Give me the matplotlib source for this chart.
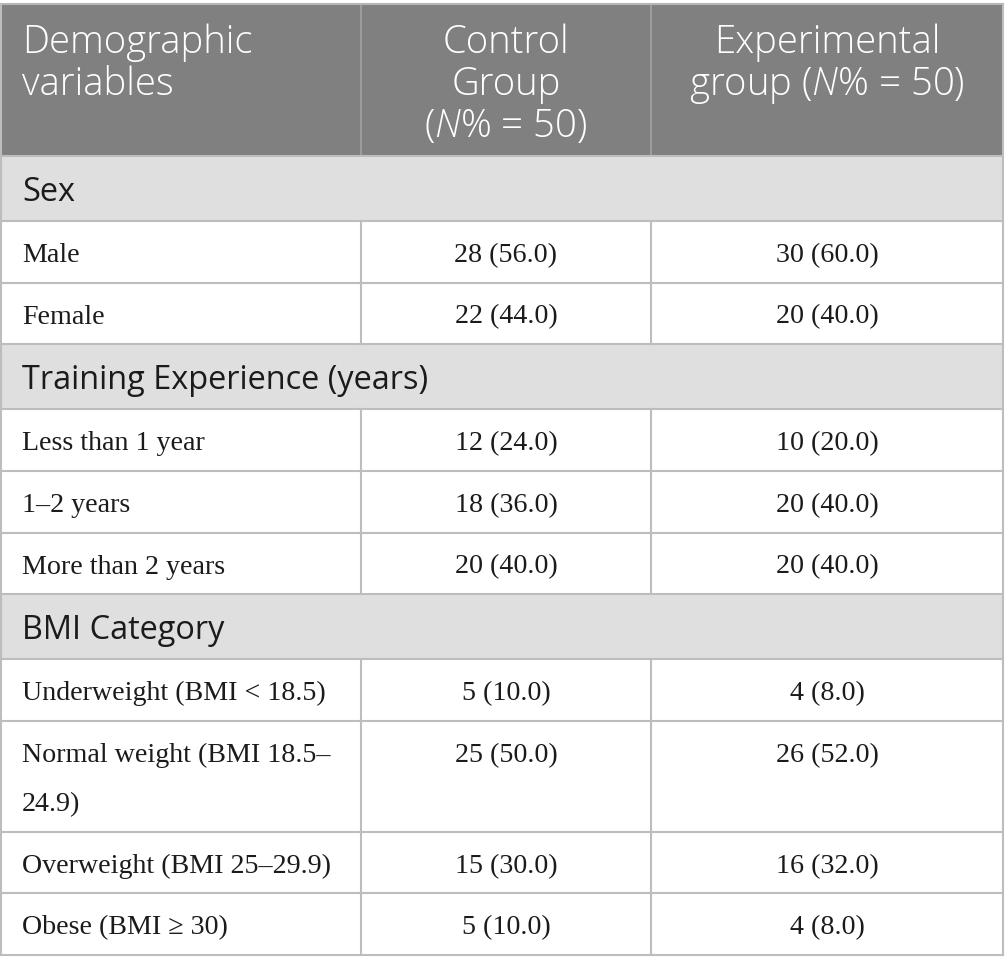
import matplotlib.pyplot as plt
from matplotlib.patches import Rectangle

plt.rcParams['mathtext.fontset'] = 'custom'
plt.rcParams['mathtext.rm'] = 'Open Sans:light'
plt.rcParams['mathtext.it'] = 'Open Sans:italic:light'

# table content
header = ["Demographic\nvariables", "Control\nGroup\n($N$% = 50)", "Experimental\ngroup ($N$% = 50)"]
sections = ["Sex", "Training Experience (years)", "BMI Category"]
labels = [
    ["Male", "Female"],
    ["Less than 1 year", "1–2 years", "More than 2 years"],
    ["Underweight (BMI < 18.5)", "Normal weight (BMI 18.5–\n24.9)",
     "Overweight (BMI 25–29.9)", "Obese (BMI ≥ 30)"],
]
control_n = [[28, 22], [12, 18, 20], [5, 25, 15, 5]]
control_pct = [[56.0, 44.0], [24.0, 36.0, 40.0], [10.0, 50.0, 30.0, 10.0]]
exp_n = [[30, 20], [10, 20, 20], [4, 26, 16, 4]]
exp_pct = [[60.0, 40.0], [20.0, 40.0, 40.0], [8.0, 52.0, 32.0, 8.0]]

HEAD_BG = '#7f807f'
SEC_BG = '#e0dfe0'
GRID = '#bdbdbd'
TXT = '#1c1a1b'

fig = plt.figure(figsize=(10.05, 9.73), dpi=100)
ax = fig.add_axes([0, 0, 1, 1])
ax.set_xlim(0, 1005)
ax.set_ylim(973, 0)
ax.axis('off')

cols = [1, 361, 651, 1003]
top = 4
head_h = 152
sec_h = 64.7
row_h = 61.8
line_h = 49
body_fs = 20.2

# header
ax.add_patch(Rectangle((cols[0], top), cols[3] - cols[0], head_h, color=HEAD_BG, lw=0))
for j, txt in enumerate(header):
    for k, line in enumerate(txt.split("\n")):
        y = top + 49 + k * 42
        if j == 0:
            ax.text(cols[0] + 21, y, line, ha='left', va='baseline', color='white',
                    fontsize=27.5, family='Open Sans', weight='light')
        else:
            ax.text((cols[j] + cols[j + 1]) / 2, y, line, ha='center', va='baseline',
                    color='white', fontsize=27.5, family='Open Sans', weight='light')
for x in cols[1:3]:
    ax.plot([x, x], [top, top + head_h], color='#a3a3a3', lw=1.2)
ax.plot([cols[0], cols[3]], [top, top], color='#b5b5b5', lw=1.5)

y = top + head_h
for s, sec in enumerate(sections):
    ax.add_patch(Rectangle((cols[0], y), cols[3] - cols[0], sec_h, color=SEC_BG, lw=0))
    ax.text(cols[0] + 21, y + 45, sec, ha='left', va='baseline', color=TXT,
            fontsize=23.4, family='Open Sans')
    ax.plot([cols[0], cols[3]], [y, y], color=GRID, lw=1.5)
    y += sec_h
    for i, lab in enumerate(labels[s]):
        lines = lab.split("\n")
        h = row_h + (len(lines) - 1) * line_h
        ax.plot([cols[0], cols[3]], [y, y], color=GRID, lw=1.5)
        for k, line in enumerate(lines):
            ax.text(cols[0] + 21, y + 41 + k * line_h, line, ha='left', va='baseline',
                    color=TXT, fontsize=body_fs, family='Liberation Serif')
        ax.text((cols[1] + cols[2]) / 2, y + 41, f"{control_n[s][i]} ({control_pct[s][i]:.1f})",
                ha='center', va='baseline', color=TXT, fontsize=body_fs, family='Liberation Serif')
        ax.text((cols[2] + cols[3]) / 2, y + 41, f"{exp_n[s][i]} ({exp_pct[s][i]:.1f})",
                ha='center', va='baseline', color=TXT, fontsize=body_fs, family='Liberation Serif')
        for x in cols[1:3]:
            ax.plot([x, x], [y, y + h], color=GRID, lw=1.5)
        y += h

ax.plot([cols[0], cols[3]], [y, y], color=GRID, lw=1.5)
ax.plot([cols[0], cols[0]], [top, y], color=GRID, lw=1.5)
ax.plot([cols[3], cols[3]], [top, y], color=GRID, lw=1.5)

fig.savefig('out.png', dpi=100)
